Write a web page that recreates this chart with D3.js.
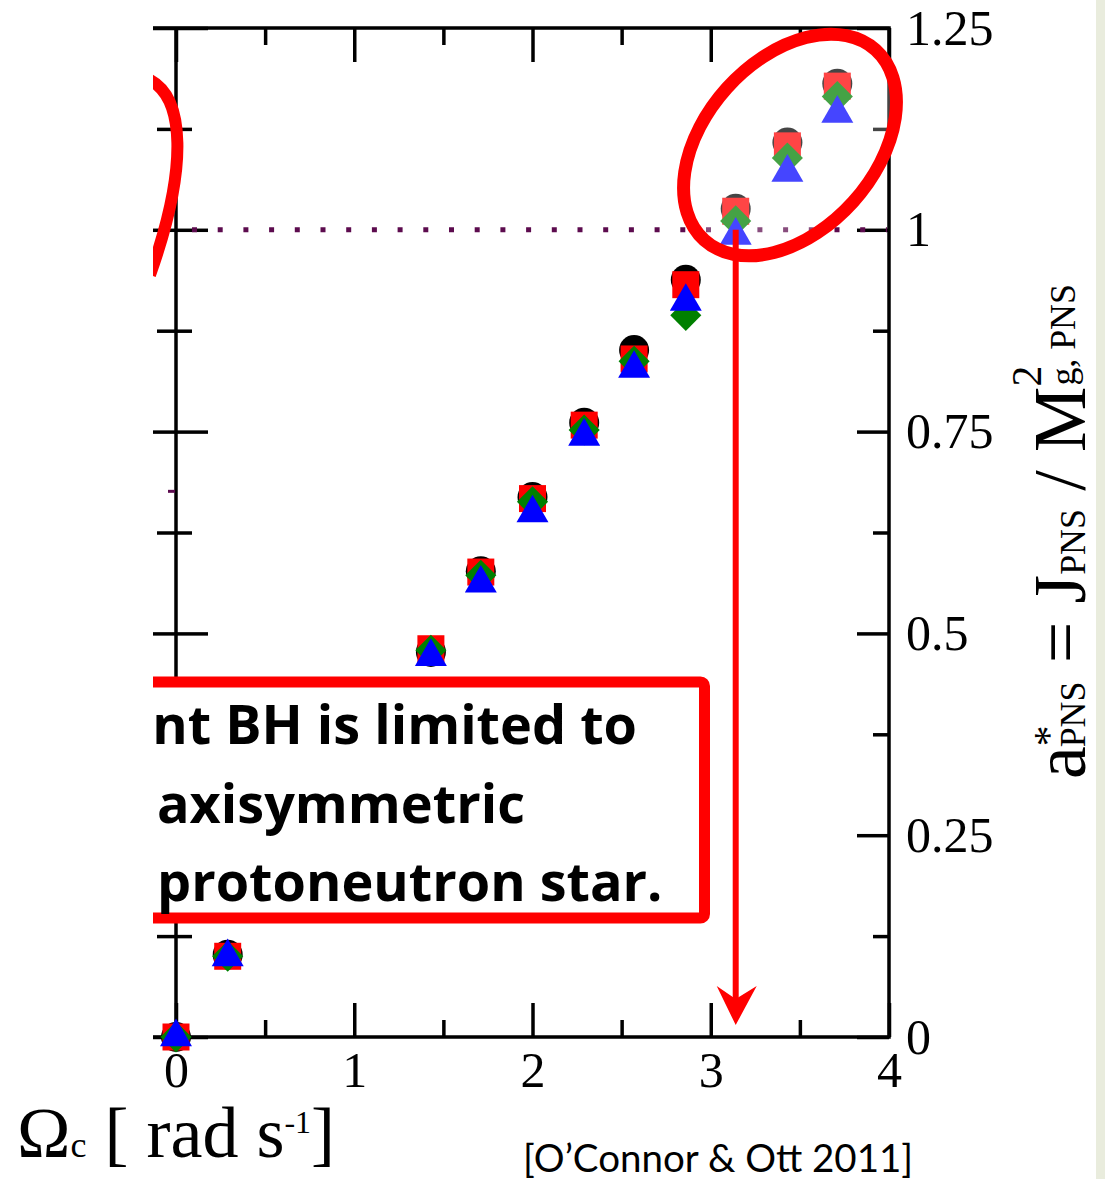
<!DOCTYPE html>
<html>
<head>
<meta charset="utf-8">
<script src="https://cdn.jsdelivr.net/npm/d3@7"></script>
<style>
  body { margin: 0; background: #fff; }
  svg { display: block; }
</style>
</head>
<body>
<script>
// angular velocity Omega_c [rad/s]
const omega = [0, 0.29, 1.43, 1.71, 2.0, 2.29, 2.57, 2.86, 3.14, 3.43, 3.71];
// a*_PNS for the four model sets
const circles   = [0, 0.102, 0.477, 0.577, 0.669, 0.761, 0.851, 0.938, 1.026, 1.108, 1.181];
const squares   = [0, 0.100, 0.481, 0.576, 0.667, 0.758, 0.840, 0.932, 1.023, 1.104, 1.178];
const diamonds  = [0, 0.100, 0.479, 0.572, 0.663, 0.752, 0.837, 0.894, 1.011, 1.089, 1.165];
const triangles = [0, 0.099, 0.471, 0.562, 0.649, 0.744, 0.828, 0.911, 0.993, 1.071, 1.144];

const xMajor = [0, 1, 2, 3, 4];
const xMinor = [0.5, 1.5, 2.5, 3.5];
const yMajor = [0, 0.25, 0.5, 0.75, 1, 1.25];
const yMinor = [0.125, 0.375, 0.625, 0.875, 1.125];
const yLabels = ["0", "0.25", "0.5", "0.75", "1", "1.25"];
const refLine = 1.0;
const refLine2 = 0.676;

const boxLines = ["nt BH is limited to", "axisymmetric", "protoneutron star."];

const w = 1105;
const h = 1179;

const svg = d3.select("body")
  .append("svg")
  .attr("width", w)
  .attr("height", h);

svg.append("rect").attr("width", w).attr("height", h).attr("fill", "#fff");
// slide edge on the right
svg.append("rect").attr("x", 1096).attr("y", 0).attr("width", 9).attr("height", h).attr("fill", "#e9ecdd");

const x = d3.scaleLinear().domain([0, 4]).range([176, 889]);
const y = d3.scaleLinear().domain([0, 1.25]).range([1037, 28]);

svg.append("defs").append("clipPath").attr("id", "cut")
  .append("rect").attr("x", 153).attr("y", 0).attr("width", 950).attr("height", h);

const plot = svg.append("g").attr("clip-path", "url(#cut)");

// ticks drawn with d3 axes, domain paths removed (frame drawn below)
function ticks(axis, vals, size, tx, ty) {
  const g = plot.append("g")
    .attr("transform", "translate(" + tx + "," + ty + ")")
    .call(axis.tickValues(vals).tickSize(size).tickFormat(""));
  g.select(".domain").remove();
  g.selectAll("line").attr("stroke", "#000").attr("stroke-width", 3.5);
  return g;
}
ticks(d3.axisBottom(x), xMajor, 34, 0, y(1.25));
ticks(d3.axisBottom(x), xMinor, 17, 0, y(1.25));
ticks(d3.axisTop(x), xMajor, 34, 0, y(0));
ticks(d3.axisTop(x), xMinor, 17, 0, y(0));
ticks(d3.axisRight(y), yMajor, 32, x(0), 0);
ticks(d3.axisRight(y), yMinor, 16, x(0), 0);
ticks(d3.axisLeft(y), yMajor, 24, x(0), 0);
ticks(d3.axisLeft(y), yMinor, 19, x(0), 0);
ticks(d3.axisLeft(y), yMajor, 32, x(4), 0);
ticks(d3.axisLeft(y), yMinor, 16, x(4), 0);

// frame
plot.append("path")
  .attr("d", "M153," + y(1.25) + "H" + x(4) + "V" + y(0) + "H153")
  .attr("fill", "none").attr("stroke", "#000").attr("stroke-width", 3.5);
plot.append("line")
  .attr("x1", x(0)).attr("x2", x(0)).attr("y1", y(1.25)).attr("y2", y(0))
  .attr("stroke", "#000").attr("stroke-width", 3.5);

// dotted a* = 1 line
plot.append("line")
  .attr("x1", x(0) + 16).attr("x2", x(4) - 2).attr("y1", y(refLine)).attr("y2", y(refLine))
  .attr("stroke", "#5c0b4e").attr("stroke-width", 5).attr("stroke-dasharray", "5 20.7");
plot.append("line")
  .attr("x1", x(0) - 8).attr("x2", x(0) - 1).attr("y1", y(refLine2)).attr("y2", y(refLine2))
  .attr("stroke", "#5c0b4e").attr("stroke-width", 3);

// x tick labels
const xl = plot.append("g").attr("transform", "translate(0," + y(0) + ")")
  .call(d3.axisBottom(x).tickValues(xMajor).tickSize(0).tickPadding(14).tickFormat(d3.format("d")));
xl.select(".domain").remove();
xl.selectAll("text").attr("font-family", "Liberation Serif").attr("font-size", 50).attr("fill", "#000");

// right y tick labels
const yl = plot.append("g").attr("transform", "translate(" + x(4) + ",0)")
  .call(d3.axisRight(y).tickValues(yMajor).tickSize(0).tickPadding(17)
    .tickFormat((d, i) => yLabels[i]));
yl.select(".domain").remove();
yl.selectAll("text").attr("font-family", "Liberation Serif").attr("font-size", 50).attr("fill", "#000");

// markers
const series = [
  { vals: circles,   type: d3.symbolCircle,   size: Math.PI * 15 * 15, color: "#000000", rot: 0 },
  { vals: squares,   type: d3.symbolSquare,   size: 27 * 27,           color: "#ff0000", rot: 0 },
  { vals: diamonds,  type: d3.symbolSquare,   size: 22 * 22,           color: "#008000", rot: 45 },
  { vals: triangles, type: d3.symbolTriangle, size: 443,               color: "#0000ff", rot: 0 }
];
series.forEach(function(s) {
  plot.append("g").selectAll("path")
    .data(s.vals)
    .enter()
    .append("path")
    .attr("d", d3.symbol(s.type, s.size))
    .attr("transform", function(d, i) {
      return "translate(" + x(omega[i]) + "," + y(d) + ") rotate(" + s.rot + ")";
    })
    .attr("fill", s.color);
});

// annotations: highlight ellipse
plot.append("ellipse")
  .attr("cx", 790).attr("cy", 145).attr("rx", 128).attr("ry", 85)
  .attr("transform", "rotate(-48,790,145)")
  .attr("fill", "#fff").attr("fill-opacity", 0.27)
  .attr("stroke", "#ff0000").attr("stroke-width", 13);

// partial ellipse on the left edge
plot.append("path")
  .attr("d", "M150,80 C184,98 189,165 150,275")
  .attr("fill", "none").attr("stroke", "#ff0000").attr("stroke-width", 12);

// arrow down to the axis
const ax = x(omega[8]);
plot.append("line")
  .attr("x1", ax).attr("x2", ax).attr("y1", y(refLine)).attr("y2", 1000)
  .attr("stroke", "#ff0000").attr("stroke-width", 6);
plot.append("path")
  .attr("d", "M" + ax + ",1025 L" + (ax - 19) + ",986 L" + ax + ",999 L" + (ax + 21) + ",986 Z")
  .attr("fill", "#ff0000");

// text box
plot.append("rect")
  .attr("x", 120).attr("y", 682).attr("width", 584.5).attr("height", 236).attr("rx", 4)
  .attr("fill", "#fff").attr("stroke", "#ff0000").attr("stroke-width", 11);
const bt = plot.append("g")
  .attr("font-family", "Open Sans").attr("font-weight", "bold").attr("font-size", 50).attr("fill", "#000");
bt.append("text").attr("x", 637).attr("y", 744).attr("text-anchor", "end").text(boxLines[0]);
const l2 = bt.append("text").attr("x", 157).attr("y", 823).text(boxLines[1]);
bt.append("text").attr("x", 157).attr("y", 901).text(boxLines[2]);
// fit the box font so "axisymmetric" spans the same width as on the slide
const fit = 368 / l2.node().getComputedTextLength();
bt.attr("font-size", 50 * fit);

// x-axis title
const xt = svg.append("text")
  .attr("x", 17).attr("y", 1157)
  .attr("font-family", "Liberation Serif").attr("font-size", 72).attr("fill", "#000");
xt.append("tspan").text("Ω");
xt.append("tspan").attr("font-size", 36).text("c");
xt.append("tspan").text(" [ rad s");
xt.append("tspan").attr("font-size", 32).attr("dy", -24).text("-1");
xt.append("tspan").attr("dy", 24).text("]");

// y-axis title (rotated, on the right)
const yt = svg.append("text")
  .attr("font-family", "Liberation Serif").attr("font-size", 74).attr("fill", "#000");
yt.append("tspan").text("a");
yt.append("tspan").attr("font-size", 42).attr("dy", -22).text("*");
yt.append("tspan").attr("font-size", 36).attr("dx", -22).attr("dy", 22).text("PNS");
yt.append("tspan").text(" = J");
yt.append("tspan").attr("font-size", 36).text("PNS");
yt.append("tspan").text(" / M");
yt.append("tspan").attr("font-size", 42).attr("dy", -44).text("2");
yt.append("tspan").attr("font-size", 36).attr("dx", -20).attr("dy", 34).text("g, PNS");
const ylen = yt.node().getBBox().width;
yt.attr("transform", "translate(1085,779) rotate(-90) scale(" + (495 / ylen) + ",1)");

// citation
svg.append("text")
  .attr("x", 523).attr("y", 1172)
  .attr("font-family", "Lato").attr("font-size", 38.5).attr("fill", "#000")
  .text("[O’Connor & Ott 2011]");
</script>
</body>
</html>
